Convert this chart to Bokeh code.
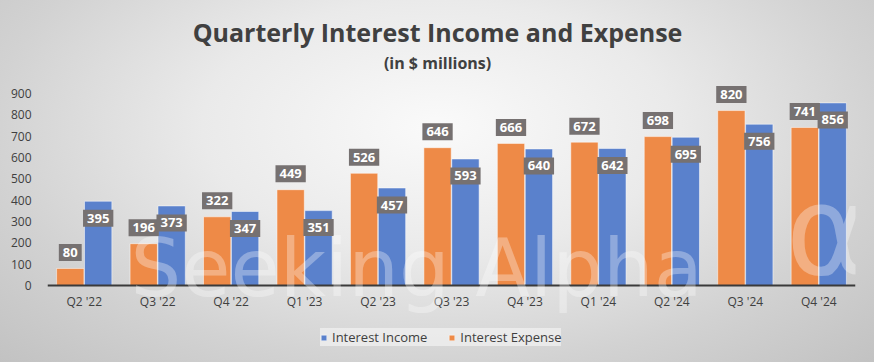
from bokeh.plotting import figure
from bokeh.models import (ColumnDataSource, FactorRange, FixedTicker, Label,
                          Legend, LegendItem, Range1d)
from bokeh.core.properties import value
from bokeh.transform import dodge
from bokeh.embed import file_html
from bokeh.resources import INLINE

quarters = ["Q2 '22", "Q3 '22", "Q4 '22", "Q1 '23", "Q2 '23", "Q3 '23",
            "Q4 '23", "Q1 '24", "Q2 '24", "Q3 '24", "Q4 '24"]
interest_income = [395, 373, 347, 351, 457, 593, 640, 642, 695, 756, 856]
interest_expense = [80, 196, 322, 449, 526, 646, 666, 672, 698, 820, 741]
y_ticks = [0, 100, 200, 300, 400, 500, 600, 700, 800, 900]
title_text = "Quarterly Interest Income and Expense"
subtitle_text = "(in $ millions)"

ORANGE = "#EE8A47"
BLUE = "#5A81CC"
BOX = "#767171"
TXT = "#404040"
FONT = "Open Sans"

src = ColumnDataSource(dict(
    q=quarters,
    inc=interest_income,
    exp=interest_expense,
    inc_lbl=[str(v) for v in interest_income],
    exp_lbl=[str(v) for v in interest_expense],
))

# the frame spans the full canvas height; the x axis is pinned at y = 0
p = figure(frame_width=808, frame_height=362,
           x_range=FactorRange(*quarters, range_padding=0),
           y_range=Range1d(-361, 1336),
           output_backend="svg", toolbar_location=None,
           title_location=None,
           min_border_left=47, min_border_right=19,
           min_border_top=0, min_border_bottom=0)

p.background_fill_color = None
p.border_fill_color = None
p.outline_line_color = None
p.styles = {"background": "radial-gradient(ellipse farthest-corner at 50% 35%, #fafafa 0%, #eaeaea 38%, #d2d2d2 72%, #c2c2c2 100%)"}

r_exp = p.vbar(x=dodge('q', -0.19, range=p.x_range), top='exp', width=0.372,
               source=src, fill_color=ORANGE, line_color="white", line_alpha=0.5)
r_inc = p.vbar(x=dodge('q', 0.19, range=p.x_range), top='inc', width=0.372,
               source=src, fill_color=BLUE, line_color="white", line_alpha=0.5)

# watermark
p.add_layout(Label(x=1.13, y=80, text="Seeking Alpha", text_font="DejaVu Sans",
                   text_font_size="80px", text_color="white", text_alpha=0.32,
                   text_baseline="alphabetic"))
p.add_layout(Label(x=10.05, y=257, text="α", text_font="DejaVu Sans",
                   text_font_size="125px", text_color="white", text_alpha=0.32,
                   text_baseline="alphabetic"))

p.text(x=dodge('q', -0.19, range=p.x_range), y='exp', text='exp_lbl', source=src,
       y_offset=-16, text_align='center', text_baseline='middle',
       text_color='white', text_font_style='bold', text_font_size='13px',
       text_font=value(FONT), background_fill_color=BOX, padding=4)
p.text(x=dodge('q', 0.19, range=p.x_range), y='inc', text='inc_lbl', source=src,
       y_offset=17, text_align='center', text_baseline='middle',
       text_color='white', text_font_style='bold', text_font_size='13px',
       text_font=value(FONT), background_fill_color=BOX, padding=4)

# titles
p.add_layout(Label(x=5.31, y=1190, text=title_text, text_font=FONT,
                   text_font_size="25px", text_font_style="bold", text_color=TXT,
                   text_align="center", text_baseline="middle"))
p.add_layout(Label(x=5.31, y=1045, text=subtitle_text, text_font=FONT,
                   text_font_size="16px", text_font_style="bold", text_color=TXT,
                   text_align="center", text_baseline="middle"))

p.grid.visible = False
p.yaxis.ticker = FixedTicker(ticks=y_ticks)
p.yaxis.axis_line_color = None
p.yaxis.major_tick_line_color = None
p.yaxis.minor_tick_line_color = None
p.yaxis.major_label_text_font_size = "12px"
p.yaxis.major_label_text_color = TXT
p.yaxis.major_label_text_font = FONT
p.yaxis.major_label_standoff = 10

p.xaxis.fixed_location = 0
p.xaxis.axis_line_color = "#3a3a3a"
p.xaxis.axis_line_width = 2
p.xaxis.major_tick_line_color = None
p.xaxis.minor_tick_line_color = None
p.xaxis.major_label_text_font_size = "12px"
p.xaxis.major_label_text_color = TXT
p.xaxis.major_label_text_font = FONT
p.xaxis.major_label_standoff = 2

legend = Legend(items=[LegendItem(label="Interest Income", renderers=[r_inc]),
                       LegendItem(label="Interest Expense", renderers=[r_exp])],
                orientation="horizontal", location=(273, 16),
                background_fill_color="#f0f0f0", background_fill_alpha=0.75,
                border_line_color=None, label_text_font=FONT,
                label_text_font_size="13px", label_text_color=TXT,
                glyph_width=7, glyph_height=7, label_standoff=5, spacing=21,
                padding=6, margin=0, label_height=16)
p.add_layout(legend)

open("out.html", "w").write(file_html(p, INLINE))
